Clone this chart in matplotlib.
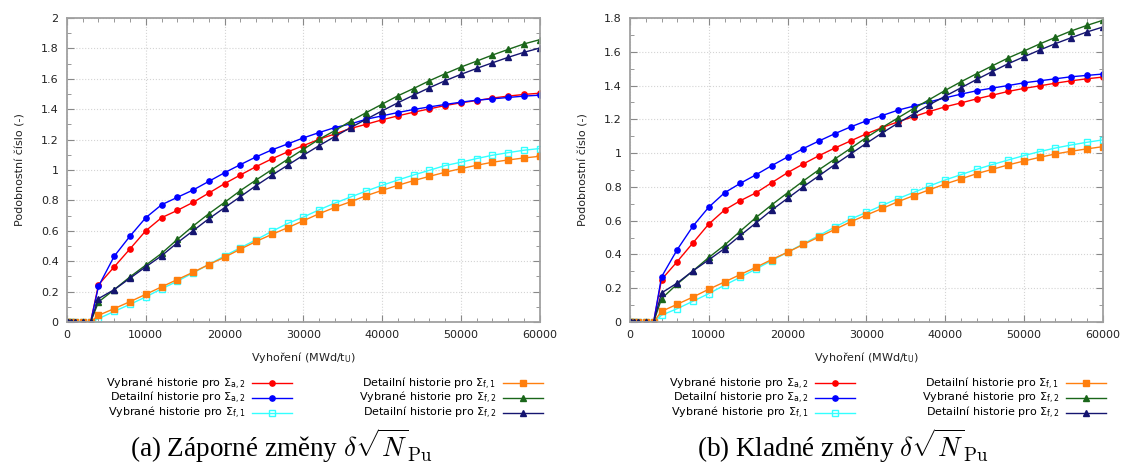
import numpy as np
import matplotlib
matplotlib.use("Agg")
import matplotlib.pyplot as plt
from matplotlib.ticker import MultipleLocator, FuncFormatter

# burnup steps (MWd/tU)
burnup = [0, 150, 500, 1000, 2000, 3000] + list(range(4000, 60001, 2000))
zeros = [0.0] * 6

# (a) negative changes
neg_sel_a2 = zeros + [0.245, 0.363, 0.481, 0.600, 0.686, 0.734, 0.787, 0.848, 0.910, 0.967, 1.022, 1.073, 1.119,
                      1.160, 1.202, 1.237, 1.273, 1.301, 1.330, 1.356, 1.380, 1.402, 1.424, 1.442, 1.457, 1.473, 1.486, 1.497, 1.505]
neg_det_a2 = zeros + [0.235, 0.433, 0.565, 0.686, 0.771, 0.820, 0.868, 0.925, 0.982, 1.035, 1.086, 1.132, 1.171,
                      1.211, 1.246, 1.279, 1.303, 1.334, 1.356, 1.378, 1.398, 1.415, 1.431, 1.446, 1.459, 1.468, 1.477, 1.486, 1.492]
neg_sel_f1 = zeros + [0.022, 0.070, 0.116, 0.165, 0.218, 0.268, 0.323, 0.378, 0.435, 0.488, 0.541, 0.596, 0.648,
                      0.690, 0.738, 0.782, 0.822, 0.862, 0.899, 0.934, 0.967, 0.998, 1.029, 1.051, 1.075, 1.097, 1.114, 1.130, 1.141]
neg_det_f1 = zeros + [0.044, 0.088, 0.134, 0.182, 0.231, 0.279, 0.327, 0.378, 0.426, 0.479, 0.530, 0.576, 0.620,
                      0.666, 0.712, 0.754, 0.791, 0.831, 0.866, 0.899, 0.930, 0.958, 0.985, 1.009, 1.031, 1.051, 1.066, 1.079, 1.090]
neg_sel_f2 = zeros + [0.132, 0.213, 0.297, 0.374, 0.451, 0.543, 0.631, 0.712, 0.787, 0.864, 0.934, 1.002, 1.070,
                      1.136, 1.202, 1.259, 1.321, 1.378, 1.433, 1.488, 1.536, 1.587, 1.633, 1.677, 1.716, 1.756, 1.793, 1.829, 1.857]
neg_det_f2 = zeros + [0.154, 0.213, 0.288, 0.363, 0.435, 0.521, 0.600, 0.679, 0.752, 0.824, 0.897, 0.965, 1.031,
                      1.097, 1.160, 1.220, 1.279, 1.334, 1.389, 1.442, 1.492, 1.541, 1.587, 1.629, 1.668, 1.705, 1.741, 1.774, 1.802]

# (b) positive changes
pos_sel_a2 = zeros + [0.251, 0.358, 0.469, 0.580, 0.663, 0.718, 0.765, 0.825, 0.884, 0.936, 0.985, 1.030, 1.072,
                      1.114, 1.151, 1.185, 1.216, 1.246, 1.274, 1.297, 1.321, 1.343, 1.365, 1.383, 1.398, 1.414, 1.428, 1.440, 1.450]
pos_det_a2 = zeros + [0.267, 0.429, 0.568, 0.680, 0.765, 0.821, 0.872, 0.926, 0.977, 1.027, 1.072, 1.115, 1.155,
                      1.191, 1.222, 1.254, 1.278, 1.303, 1.327, 1.349, 1.369, 1.385, 1.400, 1.416, 1.428, 1.440, 1.452, 1.460, 1.468]
pos_sel_f1 = zeros + [0.040, 0.079, 0.123, 0.168, 0.218, 0.265, 0.314, 0.364, 0.413, 0.463, 0.512, 0.562, 0.609,
                      0.649, 0.690, 0.730, 0.767, 0.805, 0.841, 0.872, 0.904, 0.932, 0.959, 0.985, 1.009, 1.030, 1.048, 1.064, 1.078]
pos_det_f1 = zeros + [0.063, 0.105, 0.148, 0.194, 0.237, 0.281, 0.324, 0.370, 0.413, 0.459, 0.504, 0.548, 0.593,
                      0.633, 0.672, 0.712, 0.748, 0.783, 0.817, 0.847, 0.878, 0.904, 0.930, 0.953, 0.975, 0.995, 1.011, 1.025, 1.038]
pos_sel_f2 = zeros + [0.138, 0.225, 0.303, 0.382, 0.455, 0.538, 0.619, 0.694, 0.765, 0.835, 0.902, 0.965, 1.028,
                      1.092, 1.151, 1.208, 1.264, 1.317, 1.371, 1.422, 1.470, 1.517, 1.563, 1.604, 1.646, 1.685, 1.723, 1.756, 1.786]
pos_det_f2 = zeros + [0.172, 0.231, 0.303, 0.368, 0.435, 0.512, 0.587, 0.663, 0.732, 0.801, 0.866, 0.932, 0.995,
                      1.058, 1.119, 1.177, 1.232, 1.286, 1.337, 1.386, 1.436, 1.483, 1.529, 1.570, 1.610, 1.648, 1.683, 1.717, 1.746]

labels = [
    r"Vybrané historie pro $\Sigma_{\mathrm{a,2}}$",
    r"Detailní historie pro $\Sigma_{\mathrm{a,2}}$",
    r"Vybrané historie pro $\Sigma_{\mathrm{f,1}}$",
    r"Detailní historie pro $\Sigma_{\mathrm{f,1}}$",
    r"Vybrané historie pro $\Sigma_{\mathrm{f,2}}$",
    r"Detailní historie pro $\Sigma_{\mathrm{f,2}}$",
]
captions = [r"(a) Záporné změny $\delta\sqrt{N}_{\mathrm{Pu}}$",
            r"(b) Kladné změny $\delta\sqrt{N}_{\mathrm{Pu}}$"]

styles = [
    dict(color="#ff0000", marker="o", mfc="#ff0000"),
    dict(color="#0000ff", marker="o", mfc="#0000ff"),
    dict(color="#33ffff", marker="s", mfc="none"),
    dict(color="#ff7f0e", marker="s", mfc="#ff7f0e"),
    dict(color="#1a661a", marker="^", mfc="#1a661a"),
    dict(color="#151570", marker="^", mfc="#151570"),
]

panels = [
    (0.0596, 2.0, [neg_sel_a2, neg_det_a2, neg_sel_f1, neg_det_f1, neg_sel_f2, neg_det_f2]),
    (0.5605, 1.8, [pos_sel_a2, pos_det_a2, pos_sel_f1, pos_det_f1, pos_sel_f2, pos_det_f2]),
]

fig = plt.figure(figsize=(11.24, 4.67), dpi=100)
gray = "#a0a0a0"
fmt = FuncFormatter(lambda v, p: "%g" % round(v, 6))

for i, (left, ymax, series) in enumerate(panels):
    ax = fig.add_axes([left, 0.3105, 0.4205, 0.651])
    handles = []
    for s, st in zip(series, styles):
        h, = ax.plot(burnup, s, lw=1.0, ms=3.8, mew=1.0, mec=st["color"], **st)
        handles.append(h)
    ax.set_xlim(0, 60000)
    ax.set_ylim(0, ymax)
    ax.xaxis.set_major_locator(MultipleLocator(10000))
    ax.xaxis.set_minor_locator(MultipleLocator(2000))
    ax.yaxis.set_major_locator(MultipleLocator(0.2))
    ax.yaxis.set_minor_locator(MultipleLocator(0.1))
    ax.xaxis.set_major_formatter(fmt)
    ax.yaxis.set_major_formatter(fmt)
    ax.grid(True, which="major", color="#d4d4d4", ls=":", lw=0.8)
    for sp in ax.spines.values():
        sp.set_color(gray)
        sp.set_linewidth(1.3)
    ax.tick_params(which="both", direction="in", top=True, right=True, color="#888888",
                   labelsize=8, labelcolor="#222222")
    ax.tick_params(which="major", length=5, pad=6)
    ax.tick_params(which="minor", length=3)
    ax.set_xlabel(r"Vyhoření (MWd/t$_{\mathrm{U}}$)", fontsize=8, color="#222222", labelpad=7)
    ax.set_ylabel("Podobnostní číslo (-)", fontsize=8, color="#222222", labelpad=11)

    ax.legend(handles, labels, loc="upper center", bbox_to_anchor=(0.545, -0.158), ncol=2,
              frameon=False, markerfirst=False, fontsize=8, handlelength=3.6,
              labelspacing=-0.12, columnspacing=6.0, handletextpad=0.6, borderpad=0)

    fig.text(0.25 + 0.5 * i, 0.046, captions[i], ha="center", va="center", fontsize=19.5,
             family="Liberation Serif", math_fontfamily="cm")

fig.savefig("out.png", dpi=100)
